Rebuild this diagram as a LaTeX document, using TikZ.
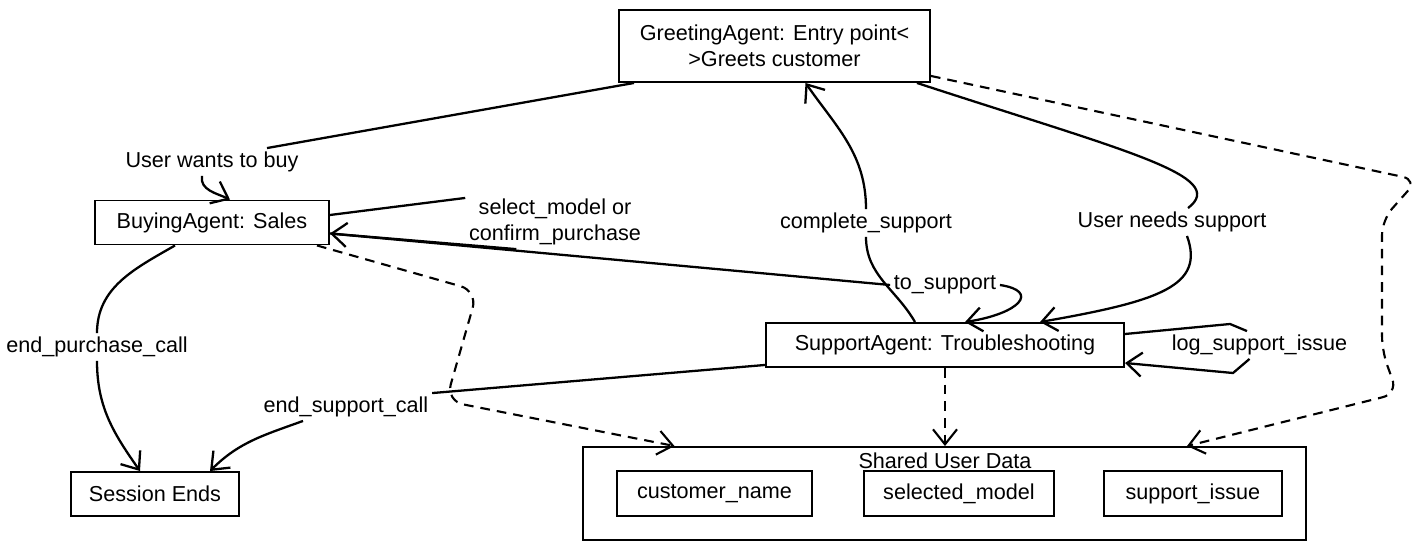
\documentclass[tikz,border=0pt]{standalone}
\usepackage{fontspec}
\setmainfont{Liberation Sans}
\usepackage{tikz}
\usetikzlibrary{positioning}
\usetikzlibrary{arrows.meta}

\newcommand{\sketchfont}{\fontsize{12.3}{15}\selectfont}

\begin{document}
\begin{tikzpicture}[
        agent/.style = {
            draw,
            line width = 1.1pt,
            minimum width = #1,
            minimum height = 0.88cm,
            inner sep = 2pt,
            font = \sketchfont
        },
        agent/.default = 4cm,
        lbl/.style = {inner sep = 2pt, font = \sketchfont},
        flow/.style = {line width = 1.3pt, ->},
        memo/.style = {flow, line width = 1.2pt, dash pattern = on 5.5pt off 4pt},
        >={Straight Barb[length=3mm, width=4.8mm]},
        node distance = {10mm}
        ]
        \useasboundingbox (0,0) rectangle (28.5,11.02);
%
        \node[agent=6.22cm, minimum height=1.44cm, align=center] (greet) at (15.49,10.10)
                {GreetingAgent: Entry point<\\>Greets customer};
        \node[agent=4.68cm] (buy) at (4.24,6.57) {BuyingAgent: Sales};
        \node[agent=7.16cm] (sup) at (18.90,4.12) {SupportAgent: Troubleshooting};
        \node[agent=3.36cm] (sess) at (3.10,1.14) {Session Ends};
%
        \node[agent=14.46cm, minimum height=1.86cm] (shared) at (18.89,1.15) {};
        \node[lbl] (shtitle) at (18.90,1.80) {Shared User Data};
        \node[agent=3.9cm, minimum height=0.9cm] (cname) at (14.29,1.15) {customer\_name};
        \node[agent=3.8cm, minimum height=0.9cm, right=1cm of cname] (smodel) {selected\_model};
        \node[agent=3.56cm, minimum height=0.9cm, right=0.96cm of smodel] (sissue) {support\_issue};
%
        \node[lbl] (lbuy) at (4.24,7.78) {User wants to buy};
        \node[lbl, align=center] (lsel) at (11.10,6.58) {select\_model or\\confirm\_purchase};
        \node[lbl] (lto) at (18.90,5.32) {to\_support};
        \node[lbl] (lcomp) at (17.32,6.56) {complete\_support};
        \node[lbl] (lneed) at (23.44,6.58) {User needs support};
        \node[lbl] (llog) at (25.19,4.12) {log\_support\_issue};
        \node[lbl] (lendp) at (1.94,4.08) {end\_purchase\_call};
        \node[lbl] (lends) at (6.92,2.88) {end\_support\_call};
%
%
        \draw[flow] ([xshift=0.32cm]greet.south west) -- ([xshift=1.1cm]lbuy.north)
                ([xshift=-0.2cm]lbuy.south) to [out=-100, in=155] ([xshift=0.36cm]buy.north);
        \draw[flow] ([xshift=-0.28cm]greet.south east) .. controls (22.5,8.0) and (24.6,7.5) .. ([xshift=0.32cm]lneed.north)
                ([xshift=0.3cm]lneed.south) .. controls (24.1,5.3) and (23.2,5.0) .. ([xshift=1.9cm]sup.north);
        \draw[flow] ([xshift=-0.6cm]sup.north) to [out=120, in=-90] (lcomp.south)
                (lcomp.north) to [out=90, in=-55] ([xshift=0.62cm]greet.south);
%
        \draw[flow] ([yshift=0.15cm]buy.east) -- (lsel.165)
                (lsel.215) -- ([yshift=-0.22cm]buy.east);
        \draw[flow] ([yshift=-0.22cm]buy.east) -- (lto.west)
                (lto.east) .. controls (20.8,5.2) and (20.4,4.75) .. ([xshift=0.4cm]sup.north);
        \draw[flow] ([yshift=0.22cm]sup.east) -- (24.6,4.54) -- ([xshift=-0.25cm]llog.north)
                ([xshift=-0.2cm]llog.south) -- (24.66,3.56) -- ([yshift=-0.36cm]sup.east);
%
        \draw[flow] ([xshift=-0.74cm]buy.south) to [out=-150, in=90] (lendp.north)
                (lendp.south) to [out=-90, in=125] ([xshift=-0.3cm]sess.north);
        \draw[flow] ([yshift=0.06cm]sup.south west) -- (lends.north east)
                ([xshift=-0.86cm]lends.south) to [out=200, in=45] ([xshift=1.1cm]sess.north);
%
% 
        \draw[memo, rounded corners=0.35cm] ([xshift=-0.26cm]buy.south east) -- (9.55,5.2) -- (8.92,3.0)
                -- ([xshift=-5.4cm]shared.north);
        \draw[memo, rounded corners=0.3cm] ([yshift=0.14cm]greet.south east) -- (28.35,7.42) -- (27.64,6.62)
                -- (27.64,4.0) -- (27.95,3.15) -- ([xshift=4.85cm]shared.north);
        \draw[memo] (sup.south) -- (sup.south |- shared.north);
%
    \end{tikzpicture}
\end{document}
